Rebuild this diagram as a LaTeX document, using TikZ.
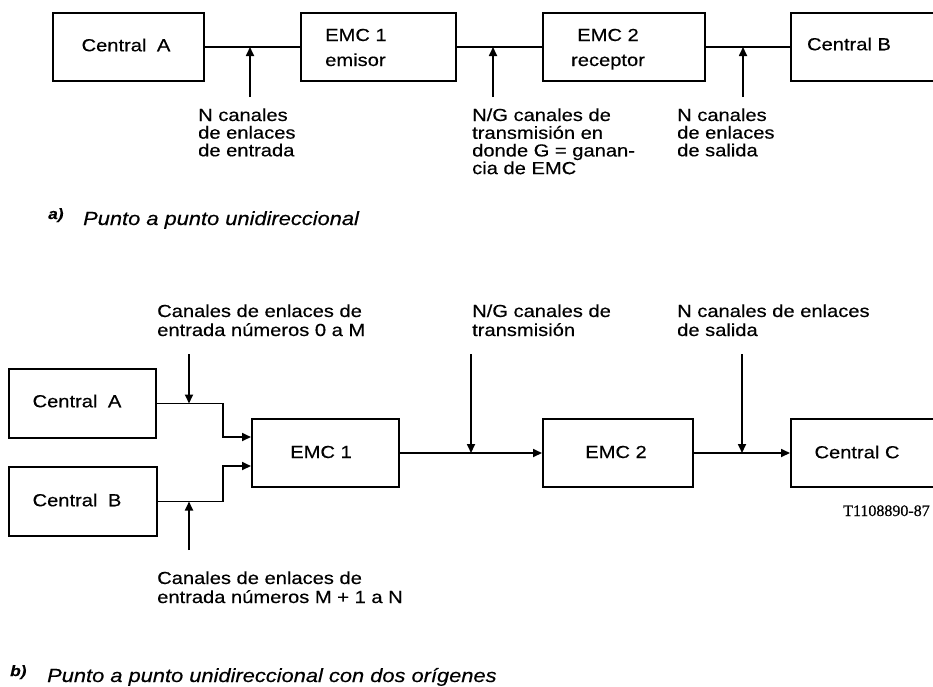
\documentclass[tikz,border=0pt]{standalone}
\usepackage{fontspec}
\setmainfont{Liberation Sans}[FakeStretch=1.15, FakeBold=0.4]
\newfontfamily\tagfont{Liberation Serif}[FakeBold=0.6]
\usetikzlibrary{arrows.meta}
\newcommand{\mlines}[1]{\begin{tabular}[t]{@{}l@{}}#1\end{tabular}}
\newcommand{\mlinesA}[1]{{\def\arraystretch{0.87}\begin{tabular}[t]{@{}l@{}}#1\end{tabular}}}
\begin{document}
\begin{tikzpicture}[x=1pt,y=-1pt,
  box/.style={draw, line width=2pt, inner sep=0pt, rectangle},
  txt/.style={inner sep=0pt, font=\fontsize{17.5}{19}\selectfont},
  lbl/.style={txt, anchor=base west},
  captext/.style={inner sep=0pt, anchor=base west, font=\fontsize{19}{22}\selectfont\itshape},
  captag/.style={inner sep=0pt, anchor=base west, font=\fontsize{15}{16}\selectfont\bfseries\itshape},
  conn/.style={line width=1.7pt},
  arr/.style={conn, -{Triangle[length=9pt,width=8pt]}},
]
\useasboundingbox (0,0) rectangle (933,686);

% ---------- a) ----------
\node[box, minimum width=151pt, minimum height=68pt] (caA) at (128.5,47) {};
\node[txt] (tcaA) at (126,45) {Central\hspace{0.6em}A};
\node[box, minimum width=155pt, minimum height=68pt] (e1A) at (378.5,47) {};
\node[txt, anchor=base west] (te1A) at (325,41) {\begin{tabular}[t]{@{}l@{}}EMC 1\\[6pt]emisor\end{tabular}};
\node[box, minimum width=162pt, minimum height=68pt] (e2A) at (624,47) {};
\node[txt, anchor=base] (te2A) at (608,41) {\begin{tabular}[t]{@{}c@{}}EMC 2\\[6pt]receptor\end{tabular}};
\node[box, minimum width=154pt, minimum height=68pt] (cbA) at (868,47) {};
\node[txt] (tcbA) at (849,44) {Central B};

\draw[conn] (caA) -- (e1A);
\draw[conn] (e1A) -- (e2A);
\draw[conn] (e2A) -- (cbA);

\coordinate (sa1) at (250,97);
\coordinate (sa2) at (493,97);
\coordinate (sa3) at (743,97);
\draw[arr] (sa1) -- (sa1 |- caA.east);
\draw[arr] (sa2) -- (sa2 |- e1A.east);
\draw[arr] (sa3) -- (sa3 |- e2A.east);

\node[lbl] (la1) at (198,121) {\mlinesA{N canales\\de enlaces\\de entrada}};
\node[lbl] (la2) at (472,121) {\mlinesA{N/G canales de\\transmisión en\\donde G = ganan-\\cia de EMC}};
\node[lbl] (la3) at (677,121) {\mlinesA{N canales\\de enlaces\\de salida}};

\node[captag] (tga) at (48,219) {a)};
\node[captext] (cpa) at (83,225) {Punto a punto unidireccional};

% ---------- b) ----------
\node[box, minimum width=147pt, minimum height=69pt] (caB) at (82.5,403.5) {};
\node[txt] (tcaB) at (77,401) {Central\hspace{0.6em}A};
\node[box, minimum width=148pt, minimum height=69pt] (cbB) at (83,501.5) {};
\node[txt] (tcbB) at (77,500) {Central\hspace{0.6em}B};
\node[box, minimum width=147pt, minimum height=68pt] (e1B) at (325.5,453) {};
\node[txt] (te1B) at (321,452) {EMC 1};
\node[box, minimum width=150pt, minimum height=68pt] (e2B) at (618,453) {};
\node[txt] (te2B) at (616,452) {EMC 2};
\node[box, minimum width=154pt, minimum height=68pt] (ccB) at (868,453) {};
\node[txt] (tccB) at (857,452) {Central C};

\coordinate (jA) at (223,403.5);
\coordinate (kA) at (223,437);
\coordinate (jB) at (223,501.5);
\coordinate (kB) at (223,466);
\draw[arr] (caB.east) -- (jA) -- (kA) -- (kA -| e1B.west);
\draw[arr] (cbB.east) -- (jB) -- (kB) -- (kB -| e1B.west);
\draw[arr] (e1B) -- (e2B);
\draw[arr] (e2B) -- (ccB);

\coordinate (sb1) at (189,354);
\coordinate (sb2) at (189,550);
\coordinate (sb3) at (471,354);
\coordinate (sb4) at (742,354);
\draw[arr] (sb1) -- (sb1 |- jA);
\draw[arr] (sb2) -- (sb2 |- jB);
\draw[arr] (sb3) -- (sb3 |- e1B.east);
\draw[arr] (sb4) -- (sb4 |- e2B.east);

\node[lbl] (lb1) at (157,317) {\mlines{Canales de enlaces de\\entrada números 0 a M}};
\node[lbl] (lb2) at (472,317) {\mlines{N/G canales de\\transmisión}};
\node[lbl] (lb3) at (677,317) {\mlines{N canales de enlaces\\de salida}};
\node[lbl] (lb4) at (157,584) {\mlines{Canales de enlaces de\\entrada números M + 1 a N}};

\node[inner sep=0pt, anchor=base west, font={\tagfont\fontsize{16}{18}\selectfont}] (tag) at (843,516) {T1108890-87};

\node[captag] (tgb) at (10,676) {b)};
\node[captext] (cpb) at (47,682) {Punto a punto unidireccional con dos orígenes};
\end{tikzpicture}
\end{document}
